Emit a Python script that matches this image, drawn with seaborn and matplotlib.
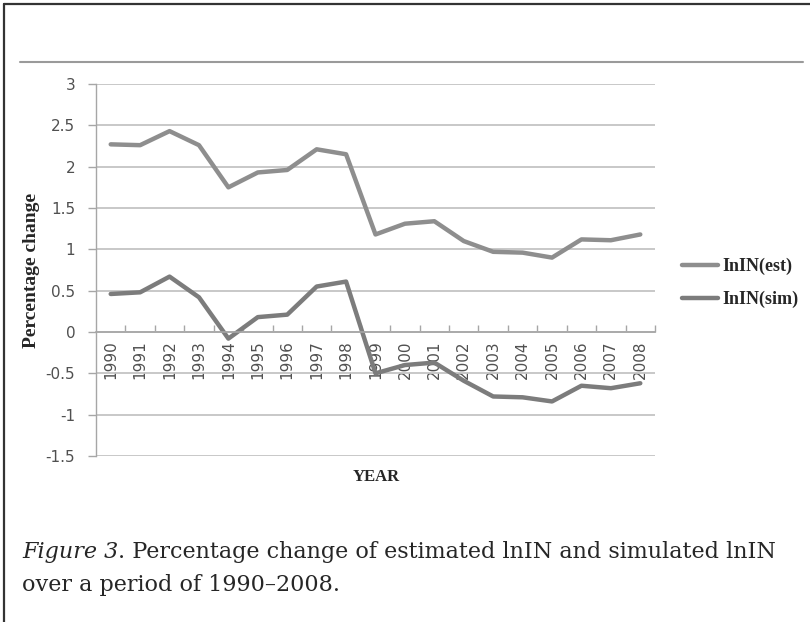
import pandas as pd
import seaborn as sns
import matplotlib.pyplot as plt
from matplotlib.lines import Line2D
from matplotlib.ticker import FixedLocator, NullFormatter

# values
years = list(range(1990, 2009))
est = [2.27, 2.26, 2.43, 2.26, 1.75, 1.93, 1.96, 2.21, 2.15, 1.18,
       1.31, 1.34, 1.10, 0.97, 0.96, 0.90, 1.12, 1.11, 1.18]
sim = [0.46, 0.48, 0.67, 0.42, -0.08, 0.18, 0.21, 0.55, 0.61, -0.50,
       -0.40, -0.37, -0.59, -0.78, -0.79, -0.84, -0.65, -0.68, -0.62]
series_names = ["InIN(est)", "InIN(sim)"]
y_ticks = [3, 2.5, 2, 1.5, 1, 0.5, 0, -0.5, -1, -1.5]
caption_italic = "Figure 3"
caption_rest = ". Percentage change of estimated lnIN and simulated lnIN"
caption_line2 = "over a period of 1990\u20132008."

df = pd.DataFrame({
    "year": years * 2,
    "value": est + sim,
    "series": [series_names[0]] * len(years) + [series_names[1]] * len(years),
})

sns.set_style("white")
W, H = 810, 622
fig = plt.figure(figsize=(W / 100, H / 100), dpi=100)
ax = fig.add_axes([96 / W, 1 - 456 / H, 559 / W, 372 / H])

sns.lineplot(data=df, x="year", y="value", hue="series",
             palette=["#8e8e8e", "#7c7c7c"], linewidth=3.2, ax=ax, legend=False)

ax.set_xlim(1989.5, 2008.5)
ax.set_ylim(-1.5, 3)
ax.set_yticks(y_ticks)
ax.set_yticklabels([f"{t:g}" for t in y_ticks])
ax.grid(axis="y", color="#c4c4c4", linewidth=1.3)
ax.grid(axis="x", visible=False)
ax.set_axisbelow(True)

for s in ["top", "right"]:
    ax.spines[s].set_visible(False)
ax.spines["left"].set_color("#a6a6a6")
ax.spines["left"].set_linewidth(1)
ax.spines["bottom"].set_position(("data", 0))
ax.spines["bottom"].set_color("#a6a6a6")
ax.spines["bottom"].set_linewidth(1.2)

ax.tick_params(axis="y", left=True, length=6, width=1, color="#a6a6a6",
               labelsize=11, labelcolor="#505050", pad=9)
ax.set_xticks(years)
ax.set_xticklabels([str(y) for y in years], rotation=90, va="top")
ax.tick_params(axis="x", which="major", length=0, labelsize=11,
               labelcolor="#505050", pad=6)
ax.xaxis.set_minor_locator(FixedLocator([y + 0.5 for y in years]))
ax.xaxis.set_minor_formatter(NullFormatter())
ax.tick_params(axis="x", which="minor", bottom=True, direction="in",
               length=5, width=1, color="#a6a6a6")
for lab in ax.get_yticklabels() + ax.get_xticklabels():
    lab.set_family("DejaVu Sans")

ax.set_xlabel("")
ax.set_ylabel("Percentage change", family="Liberation Serif", fontweight="bold",
              fontsize=14, labelpad=4)
fig.text(376 / W, 1 - 477 / H, "YEAR", family="Liberation Serif",
         fontweight="bold", fontsize=12, ha="center", va="center")

handles = [Line2D([], [], color=l.get_color(), linewidth=3.2) for l in ax.get_lines()[:2]]
fig.legend(handles, series_names, loc="center left", bbox_to_anchor=(682 / W, 1 - 283 / H),
           frameon=False, borderpad=0, borderaxespad=0, handlelength=2.0,
           handletextpad=0.25, labelspacing=0.85,
           prop={"family": "Liberation Serif", "weight": "bold", "size": 13})

# frame and rule line
fig.add_artist(Line2D([4 / W, 4 / W], [0, 1 - 4 / H], color="#333333", linewidth=1.6))
fig.add_artist(Line2D([4 / W, 1], [1 - 4 / H, 1 - 4 / H], color="#333333", linewidth=1.6))
fig.add_artist(Line2D([20 / W, 803 / W], [1 - 62 / H, 1 - 62 / H], color="#9a9a9a", linewidth=1.5))

# caption
t1 = fig.text(22 / W, 1 - 558 / H, caption_italic, family="DejaVu Serif",
              style="italic", fontsize=16, va="baseline")
r = fig.canvas.get_renderer()
bb = t1.get_window_extent(renderer=r)
fig.text(bb.x1 / W, 1 - 558 / H, caption_rest, family="DejaVu Serif",
         fontsize=16, va="baseline")
fig.text(22 / W, 1 - 591 / H, caption_line2, family="DejaVu Serif",
         fontsize=16, va="baseline")

fig.savefig("out.png", dpi=100)
